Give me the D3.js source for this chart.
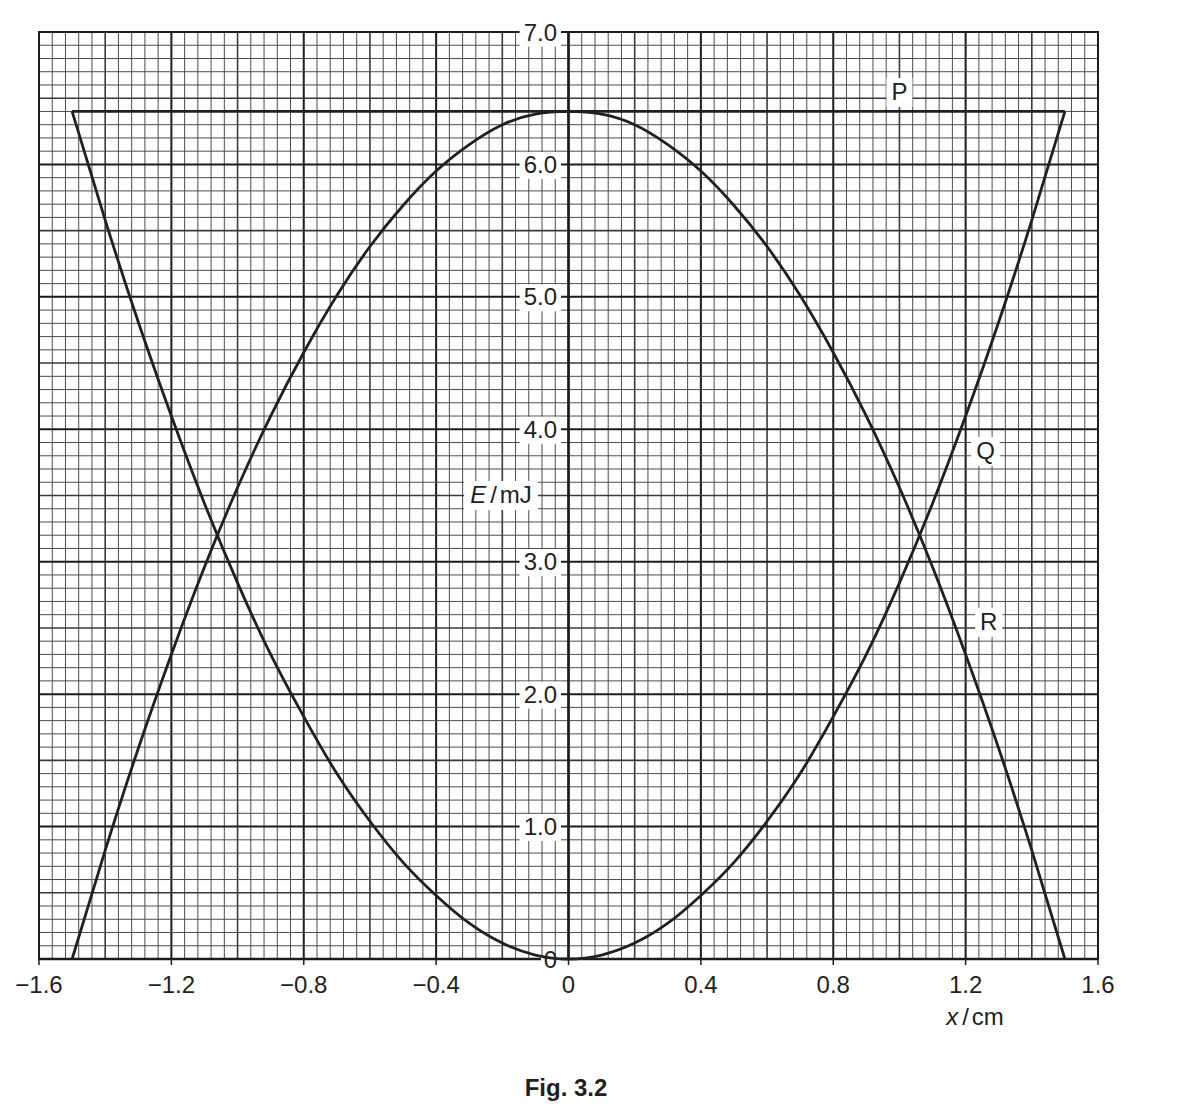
<!DOCTYPE html>
<html><head><meta charset="utf-8">
<script src="https://cdn.jsdelivr.net/npm/d3@7"></script>
<style>
body{margin:0;background:#fff;}
text{font-family:"Liberation Sans",Arial,sans-serif;fill:#231f20;}
</style></head>
<body>
<svg id="c" width="1193" height="1108"></svg>
<script>
// ---- data ----
const xSamples = [-1.5,-1.4,-1.3,-1.2,-1.1,-1.0,-0.9,-0.8,-0.7,-0.6,-0.5,-0.4,-0.3,-0.2,-0.1,0,
                  0.1,0.2,0.3,0.4,0.5,0.6,0.7,0.8,0.9,1.0,1.1,1.2,1.3,1.4,1.5];
const qValues = [6.40,5.58,4.81,4.10,3.44,2.84,2.30,1.83,1.40,1.04,0.73,0.48,0.27,0.12,0.03,0,
                 0.03,0.12,0.27,0.48,0.73,1.04,1.40,1.83,2.30,2.84,3.44,4.10,4.81,5.58,6.40];
const rValues = [0.00,0.82,1.59,2.30,2.96,3.56,4.10,4.58,5.01,5.38,5.69,5.95,6.15,6.30,6.38,6.40,
                 6.38,6.30,6.15,5.95,5.69,5.38,5.01,4.58,4.10,3.56,2.96,2.30,1.59,0.82,0.00];
const pX = [-1.5, 1.5];
const pValues = [6.4, 6.4];
const xTicks = [-1.6,-1.2,-0.8,-0.4,0,0.4,0.8,1.2,1.6];
const xTickLabels = ["\u22121.6","\u22121.2","\u22120.8","\u22120.4","0","0.4","0.8","1.2","1.6"];
const yTicks = [0,1,2,3,4,5,6,7];
const yTickLabels = ["0","1.0","2.0","3.0","4.0","5.0","6.0","7.0"];
const curveLabels = [
  {t:"P", x:1.00, y:6.55},
  {t:"Q", x:1.26, y:3.84},
  {t:"R", x:1.27, y:2.55}
];

// ---- layout ----
const svg = d3.select("#c");
const L = 39, R = 1098, T = 32, B = 959;
const FS = 24;
const x = d3.scaleLinear().domain([-1.6,1.6]).range([L,R]);
const y = d3.scaleLinear().domain([0,7]).range([B,T]);

const g = svg.append("g");
// grid
const minorX = d3.range(0,81).map(i => -1.6 + i*0.04);
const minorY = d3.range(0,71).map(i => i*0.1);
function cls(i, med, maj){ return i%maj===0 ? "maj" : (i%med===0 ? "med" : "min"); }
const style = {min:{w:1,c:"#4d4d4d"}, med:{w:1.6,c:"#3a3a3a"}, maj:{w:2,c:"#1c1c1c"}};
minorX.forEach((v,i)=>{
  const s = style[cls(i,5,10)];
  g.append("line").attr("x1",x(v)).attr("x2",x(v)).attr("y1",T).attr("y2",B)
   .attr("stroke",s.c).attr("stroke-width",s.w);
});
minorY.forEach((v,i)=>{
  const s = style[cls(i,5,10)];
  g.append("line").attr("x1",L).attr("x2",R).attr("y1",y(v)).attr("y2",y(v))
   .attr("stroke",s.c).attr("stroke-width",s.w);
});
// borders / axes
g.append("rect").attr("x",L).attr("y",T).attr("width",R-L).attr("height",B-T)
 .attr("fill","none").attr("stroke","#1c1c1c").attr("stroke-width",2);
g.append("line").attr("x1",L).attr("x2",R).attr("y1",B).attr("y2",B).attr("stroke","#1c1c1c").attr("stroke-width",2.5);
g.append("line").attr("x1",x(0)).attr("x2",x(0)).attr("y1",T).attr("y2",B).attr("stroke","#1c1c1c").attr("stroke-width",2.5);

// x ticks
xTicks.forEach((v,i)=>{
  g.append("line").attr("x1",x(v)).attr("x2",x(v)).attr("y1",B).attr("y2",B+6)
   .attr("stroke","#1c1c1c").attr("stroke-width",1.5);
  g.append("text").attr("x",x(v)).attr("y",993).attr("text-anchor","middle")
   .attr("font-size",FS).text(xTickLabels[i]);
});

// labels with white background
function bgText(tx, ty, anchor, size, build, pad){
  const grp = svg.append("g");
  const rect = grp.append("rect").attr("fill","#fff");
  const t = grp.append("text").attr("x",tx).attr("y",ty).attr("text-anchor",anchor).attr("font-size",size);
  build(t);
  const bb = t.node().getBBox();
  const p = pad || [4,3];
  rect.attr("x",bb.x-p[0]).attr("y",bb.y+p[1]).attr("width",bb.width+2*p[0]).attr("height",bb.height-2*p[1]+2);
  return grp;
}
yTicks.forEach((v,i)=>{
  if (v===0) return;
  bgText(557, y(v)+8.5, "end", FS, t=>t.text(yTickLabels[i]), [4,1]);
});
// zero label: only masks axis line, curve drawn over
const zg = svg.append("g");
zg.append("rect").attr("x",541).attr("y",B-3).attr("width",20).attr("height",6).attr("fill","#fff");

// curves
const line = d3.line().x(d=>x(d[0])).y(d=>y(d[1])).curve(d3.curveNatural);
const curveStyle = p => p.attr("fill","none").attr("stroke","#231f20").attr("stroke-width",2.8).attr("stroke-linejoin","round");
curveStyle(svg.append("path").attr("d", line(xSamples.map((v,i)=>[v,qValues[i]]))));
curveStyle(svg.append("path").attr("d", line(xSamples.map((v,i)=>[v,rValues[i]]))));
curveStyle(svg.append("path").attr("d", d3.line().x(d=>x(d[0])).y(d=>y(d[1]))(pX.map((v,i)=>[v,pValues[i]]))));

zg.append("text").attr("x",557).attr("y",B+8.5).attr("text-anchor","end").attr("font-size",FS).text(yTickLabels[0]);

bgText(501, 503, "middle", FS, t=>{
  t.append("tspan").attr("font-style","italic").text("E");
  t.append("tspan").attr("dx",4).text("/");
  t.append("tspan").attr("dx",3).text("mJ");
}, [6,0]);
curveLabels.forEach(d=>{
  bgText(x(d.x), y(d.y)+8.5, "middle", FS, t=>t.text(d.t), [5,0]);
});

// axis title
const xt = svg.append("text").attr("x",975).attr("y",1025).attr("text-anchor","middle").attr("font-size",FS);
xt.append("tspan").attr("font-style","italic").text("x");
xt.append("tspan").attr("dx",4).text("/");
xt.append("tspan").attr("dx",3).text("cm");

svg.append("text").attr("x",566).attr("y",1096).attr("text-anchor","middle")
  .attr("font-size",FS).attr("font-weight","bold").text("Fig. 3.2");
</script>
</body></html>
